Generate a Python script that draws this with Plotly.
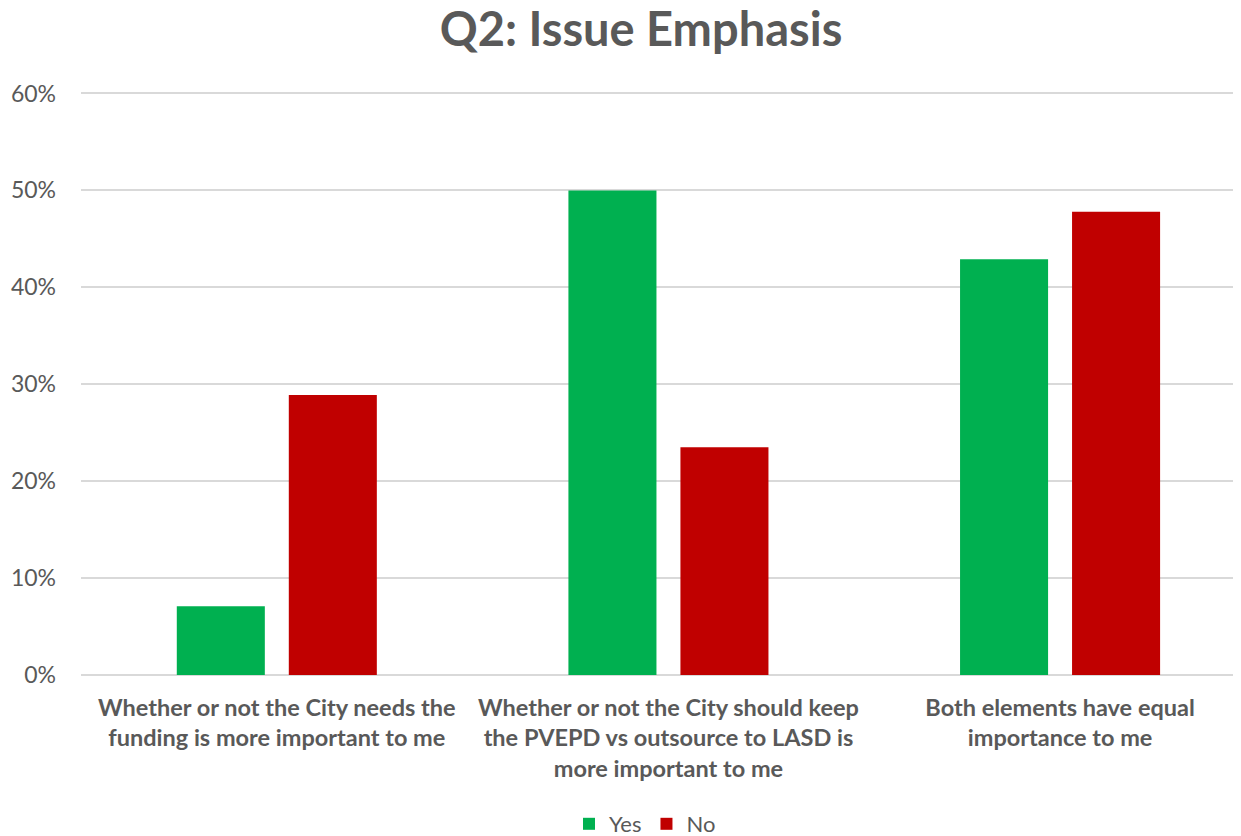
import plotly.graph_objects as go

categories = [
    "Whether or not the City needs the<br>funding is more important to me",
    "Whether or not the City should keep<br>the PVEPD vs outsource to LASD is<br>more important to me",
    "Both elements have equal<br>importance to me",
]
yes_values = [7.1, 50.0, 42.9]
no_values = [28.9, 23.5, 47.8]
y_ticks = [0, 10, 20, 30, 40, 50, 60]
y_tick_labels = ["0%", "10%", "20%", "30%", "40%", "50%", "60%"]

GREEN = "#00B050"
RED = "#C00000"
TEXT = "#595959"
FONT = "Lato"

W, H = 1233, 828

fig = go.Figure()
fig.add_trace(go.Bar(x=[0, 1, 2], y=yes_values, name="Yes", marker_color=GREEN,
                     marker_line_width=0))
fig.add_trace(go.Bar(x=[0, 1, 2], y=no_values, name="No", marker_color=RED,
                     marker_line_width=0))

fig.update_layout(
    width=W, height=H,
    margin=dict(l=73, r=0, t=84, b=161, autoexpand=False),
    paper_bgcolor="white", plot_bgcolor="white",
    barmode="group", bargap=0.428, bargroupgap=0.214,
    font=dict(family=FONT, color=TEXT),
    title=dict(text="<b>Q2: Issue Emphasis</b>", x=633 / W, xref="container",
               xanchor="center", y=1 - 22 / H, yref="container", yanchor="middle",
               font=dict(size=47, color=TEXT, family=FONT)),
    legend=dict(orientation="h", xref="container", yref="container",
                x=637 / W, xanchor="center", y=1 - 816 / H, yanchor="middle",
                font=dict(size=22, color=TEXT, family=FONT), itemwidth=30,
                traceorder="normal"),
    showlegend=True,
)
fig.update_xaxes(
    range=[-0.5, 2.462], tickmode="array", tickvals=[0, 1, 2],
    ticktext=[f"<b>{c}</b>" for c in categories],
    tickfont=dict(size=23.5, color=TEXT, family=FONT), showgrid=False, showline=False,
    zeroline=False, ticks="", fixedrange=True, automargin=False, ticklabelstandoff=16,
)
fig.update_yaxes(
    range=[0, 60.15], tickmode="array", tickvals=y_ticks, ticktext=y_tick_labels,
    tickfont=dict(size=23, color=TEXT, family=FONT), showgrid=True, gridcolor="#D9D9D9",
    gridwidth=1.5, zeroline=True, zerolinecolor="#D9D9D9", zerolinewidth=1.5,
    showline=False, ticks="", ticklabelstandoff=24, automargin=False,
)

fig.write_html("out.html")
